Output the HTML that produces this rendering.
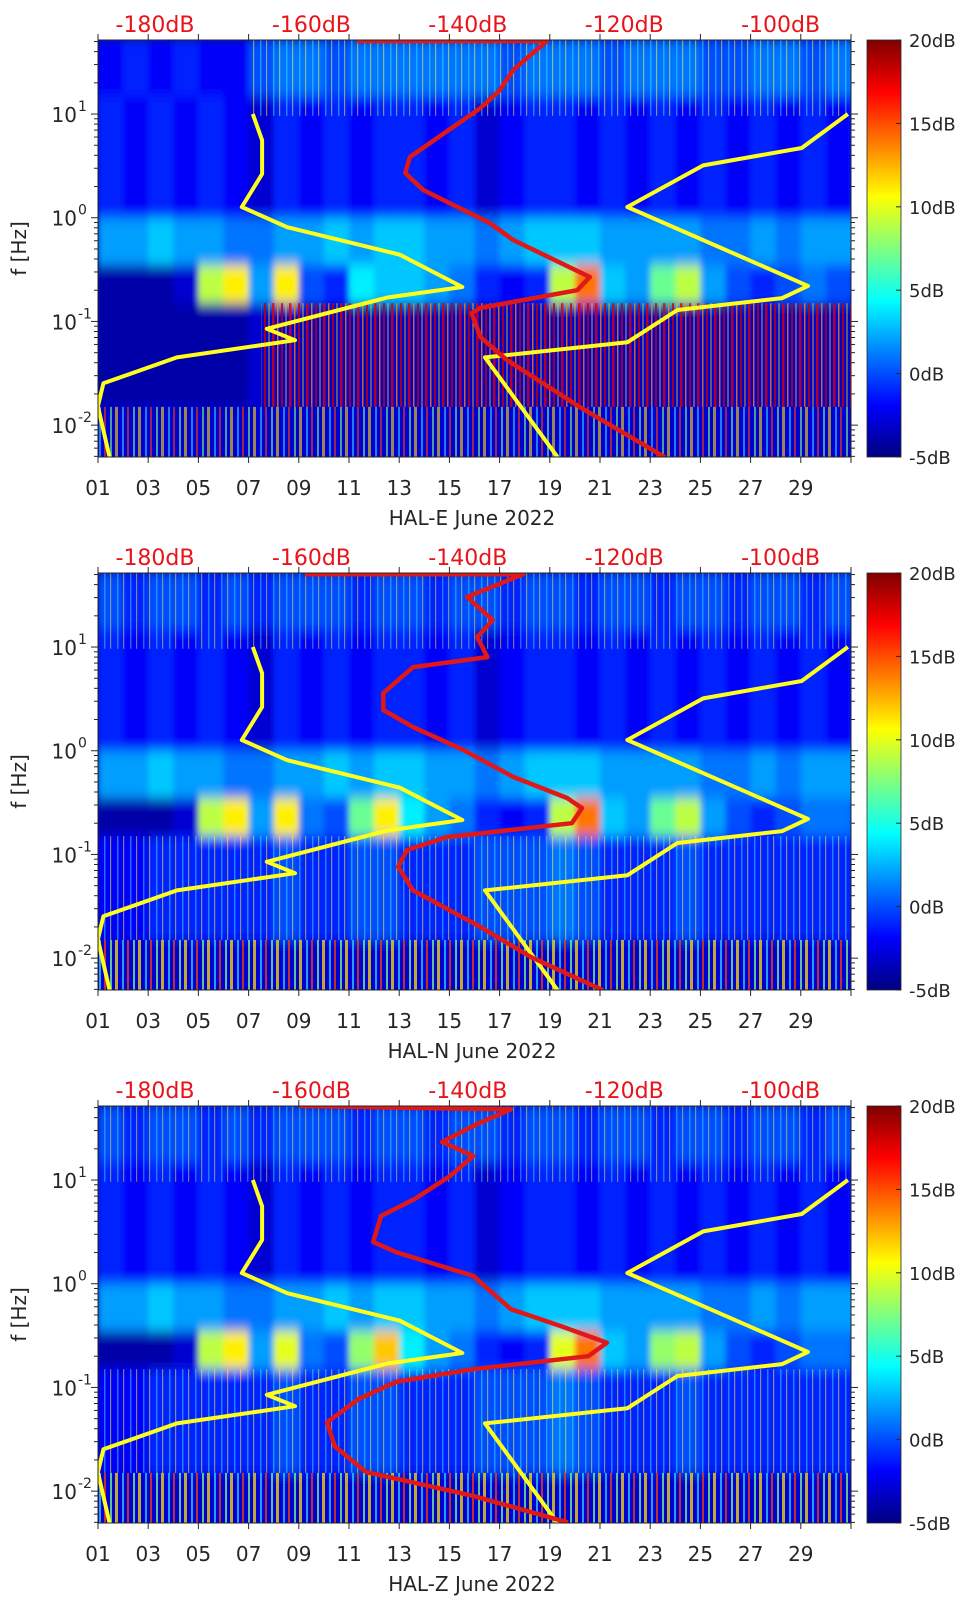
<!DOCTYPE html>
<html>
<head>
<meta charset="utf-8">
<style>
  html,body{margin:0;padding:0;background:#fff;}
  svg{display:block;}
  text{font-family:"DejaVu Sans","Liberation Sans",sans-serif;}
</style>
</head>
<body>
<svg id="fig" width="962" height="1599" viewBox="0 0 962 1599" xmlns="http://www.w3.org/2000/svg">
  <defs>
    <filter id="blur" x="-2%" y="-2%" width="104%" height="104%">
      <feGaussianBlur stdDeviation="3 6" edgeMode="duplicate"/>
    </filter>
    <linearGradient id="jetGrad" x1="0" y1="1" x2="0" y2="0">
      <stop offset="0" stop-color="#000080"/>
      <stop offset="0.125" stop-color="#0000ff"/>
      <stop offset="0.375" stop-color="#00ffff"/>
      <stop offset="0.625" stop-color="#ffff00"/>
      <stop offset="0.875" stop-color="#ff0000"/>
      <stop offset="1" stop-color="#800000"/>
    </linearGradient>
    <pattern id="stripeRed" patternUnits="userSpaceOnUse" width="17" height="10">
      <rect x="0" y="0" width="2.5" height="10" fill="#e00000"/>
      <rect x="5" y="0" width="1.5" height="10" fill="#ff8000"/>
      <rect x="9" y="0" width="2" height="10" fill="#c00000"/>
      <rect x="13.5" y="0" width="1" height="10" fill="#ffd000"/>
    </pattern>
    <pattern id="stripeMix" patternUnits="userSpaceOnUse" width="23" height="10">
      <rect x="0" y="0" width="3" height="10" fill="#ffe000"/>
      <rect x="7" y="0" width="2" height="10" fill="#30d0ff"/>
      <rect x="12" y="0" width="2" height="10" fill="#ff4000"/>
      <rect x="18" y="0" width="2" height="10" fill="#80ff80"/>
    </pattern>
    <pattern id="stripeThin" patternUnits="userSpaceOnUse" width="13" height="10">
      <rect x="0" y="0" width="1.5" height="10" fill="#40e0ff"/>
      <rect x="6" y="0" width="1.2" height="10" fill="#ffff40"/>
    </pattern>
  </defs>
</svg>
<script>
// ---------- data ----------
const days = [1,2,3,4,5,6,7,8,9,10,11,12,13,14,15,16,17,18,19,20,21,22,23,24,25,26,27,28,29,30,31];
const bandEdgesHz = [52, 15, 1, 0.35, 0.15, 0.015, 0.004];
const b0E  = [-2,-1,-2,-1,-2,-2,0,1,1,0,1,1,1,1,1,1,0,1,1,1,0,1,1,1,0,0,1,1,0,1,1];
const b0NZ = [0,-1,0,0,-1,0,-1,0,0,0,-1,0,0,-1,0,0,-1,0,0,-1,0,0,-1,0,0,-1,0,0,-1,0,0];
const b1   = [-1,-2,-1,-2,-1,-2,-3,-1,-2,-1,-2,-1,-1,-2,-1,-3,-2,-1,-1,-2,-1,-2,-1,-2,-1,-2,-1,-2,-1,-2,-1];
const b2   = [2,2,3,2,2,1,1,2,2,3,2,3,3,2,2,1,2,3,3,3,2,2,2,2,1,1,2,1,2,2,2];
const b3E  = [-4,-4,-4,-3,9,11,2,11,0,-1,4,3,3,2,1,-1,-2,-1,9,14,3,2,7,9,2,0,-1,0,1,0,-1];
const b3N  = [-4,-4,-4,-3,9,11,2,11,1,0,7,11,4,2,1,-1,-2,-1,9,14,3,2,7,9,2,0,-1,0,1,1,0];
const b3Z  = [-4,-4,-4,-3,9,11,2,10,1,0,8,12,4,2,1,-1,-2,-1,10,14,3,2,8,9,2,0,-1,0,1,1,0];
const b4E  = [-4,-4,-4,-4,-4,-4,-3,-3,-3,-3,-3,-3,-3,-3,-3,-3,-3,-3,-3,-3,-3,-3,-3,-3,-3,-3,-3,-3,-3,-3,-3];
const b4N  = [-2,-2,-1,-1,-1,-1,-1,0,-1,-1,0,0,-1,-1,-1,0,0,0,1,0,-1,-1,-1,0,-1,-1,-1,-1,-1,-1,-1];
const b4Z  = [-2,-2,-1,-1,-1,-1,-1,0,-1,-1,0,0,-1,-1,-1,0,0,0,1,0,-1,-1,-1,0,-1,-1,-1,-1,-1,-1,-1];
const b5   = [-3,-3,-3,-3,-3,-3,-3,-3,-3,-3,-3,-3,-3,-3,-3,-3,-3,-3,-3,-3,-3,-3,-3,-3,-3,-3,-3,-3,-3,-3,-3];

const nlnmF  = [10, 5.6, 2.64, 1.27, 0.81, 0.44, 0.215, 0.17, 0.085, 0.066, 0.045, 0.0253, 0.0152, 0.0049];
const nlnmDb = [-167.5, -166.3, -166.3, -168.9, -163.1, -148.7, -140.7, -150.3, -165.7, -162.1, -177.2, -186.6, -187.3, -185.8];
const nhnmF  = [10, 4.7, 3.2, 1.27, 0.22, 0.168, 0.129, 0.063, 0.045, 0.0049];
const nhnmDb = [-91.4, -97.3, -109.9, -119.6, -96.5, -99.8, -113.2, -119.6, -137.8, -128.5];

const redEF  = [50.6, 50.6, 26.6, 17, 11.4, 3.85, 2.7, 1.85, 0.89, 0.61, 0.268, 0.2, 0.135, 0.12, 0.071, 0.0425, 0.015, 0.0049];
const redEDb = [-154.2, -129.9, -134.2, -135.9, -138.4, -147.4, -148.0, -145.7, -137.2, -134.2, -124.4, -126.0, -138.4, -139.5, -138.4, -135.0, -125.7, -114.8];
const redNF  = [50.4, 50.4, 30.4, 18.2, 12.5, 8.0, 6.4, 3.6, 2.47, 1.69, 1.02, 0.56, 0.35, 0.28, 0.20, 0.147, 0.110, 0.076, 0.045, 0.020, 0.0103, 0.0049];
const redNDb = [-160.8, -132.9, -140.1, -136.8, -138.8, -137.5, -147.0, -150.8, -150.8, -147.0, -140.6, -134.2, -127.3, -125.4, -126.7, -142.7, -147.8, -148.9, -147.0, -138.4, -132.0, -122.7];
const redZF  = [51.8, 48, 34.7, 23.3, 17.1, 10.9, 6.56, 4.5, 2.53, 2.02, 1.19, 0.57, 0.39, 0.27, 0.20, 0.150, 0.113, 0.077, 0.046, 0.027, 0.0153, 0.0090, 0.0050];
const redZDb = [-161.6, -134.5, -138.8, -143.3, -139.3, -142.3, -146.8, -151.1, -152.1, -149.2, -139.3, -134.5, -128.1, -122.2, -124.6, -139.3, -149.2, -154.0, -158.0, -157.0, -153.0, -139.3, -127.2];

const dbTicks = [-180, -160, -140, -120, -100];
const dayTickLabels = ["01","03","05","07","09","11","13","15","17","19","21","23","25","27","29"];
const decadeTicks = [1, 0, -1, -2];
const cbTicks = [-5, 0, 5, 10, 15, 20];

// ---------- layout ----------
const NS = "http://www.w3.org/2000/svg";
const svg = document.getElementById("fig");
const PX0 = 98, PX1 = 851, PH = 417;
const LOGTOP = 1.714, PXDEC = 103.7, DAYPX = 25.1;
const CBX = 867, CBW = 34, VMIN = -5, VMAX = 20;

function mk(tag, attrs, parent) {
  const e = document.createElementNS(NS, tag);
  for (const k in attrs) e.setAttribute(k, attrs[k]);
  (parent || svg).appendChild(e);
  return e;
}
function xDay(d) { return PX0 + (d - 1) * DAYPX; }
function yF(f, top) { return top + (LOGTOP - Math.log10(f)) * PXDEC; }
function xDb(db) { return 155 + (db + 180) * 7.82; }
function clamp(v) { return Math.max(0, Math.min(1, v)); }
function jet(v) {
  const t = clamp((v - VMIN) / (VMAX - VMIN));
  const r = clamp(1.5 - Math.abs(4 * t - 3)), g = clamp(1.5 - Math.abs(4 * t - 2)), b = clamp(1.5 - Math.abs(4 * t - 1));
  return "rgb(" + Math.round(r * 255) + "," + Math.round(g * 255) + "," + Math.round(b * 255) + ")";
}

const panels = [
  {top: 40,   name: "HAL-E", key: "e", bands: [b0E, b1, b2, b3E, b4E, b5], rf: redEF, rd: redEDb},
  {top: 573,  name: "HAL-N", key: "n", bands: [b0NZ, b1, b2, b3N, b4N, b5], rf: redNF, rd: redNDb},
  {top: 1106, name: "HAL-Z", key: "z", bands: [b0NZ, b1, b2, b3Z, b4Z, b5], rf: redZF, rd: redZDb}
];

panels.forEach(function (p, pi) {
  const top = p.top, bot = top + PH;
  const g = mk("g", {});
  
  

  const cp = mk("clipPath", {id: "clip" + pi}, g);
  mk("rect", {x: PX0, y: top, width: PX1 - PX0, height: PH}, cp);

  const plot = mk("g", {"clip-path": "url(#clip" + pi + ")"}, g);
  
  
  const bg = mk("rect", {x: PX0, y: top, width: PX1 - PX0, height: PH, fill: "#0012a8"}, plot);
  
  

  const heat = mk("g", {filter: "url(#blur)"}, plot);
  
  
  p.bands.forEach(function (vals, bi) {
    const y0 = yF(bandEdgesHz[bi], top), y1 = yF(bandEdgesHz[bi + 1], top);
    days.forEach(function (d, j) {
      const c = mk("rect", {x: xDay(d), y: y0, width: DAYPX + 0.6, height: y1 - y0 + 0.6, fill: jet(vals[j])}, heat);
      
      
    });
  });

  // stripe textures
  const yb4a = yF(bandEdgesHz[4], top), yb4b = yF(bandEdgesHz[5], top), yb5b = yF(bandEdgesHz[6], top);
  const yb0a = yF(bandEdgesHz[0], top), yb0b = yF(bandEdgesHz[1], top);
  if (pi === 0) {
    const s1 = mk("rect", {x: xDay(7.5), y: yb4a, width: PX1 - xDay(7.5), height: yb4b - yb4a, fill: "url(#stripeRed)", opacity: 0.8}, plot);
    
    
    const s2 = mk("rect", {x: xDay(7), y: yb0a - 5, width: PX1 - xDay(7), height: yb0b - yb0a + 25, fill: "url(#stripeThin)", opacity: 0.5}, plot);
    
    
  } else {
    const s3 = mk("rect", {x: PX0, y: yb4a, width: PX1 - PX0, height: yb4b - yb4a, fill: "url(#stripeThin)", opacity: 0.5}, plot);
    
    
    const s4 = mk("rect", {x: PX0, y: yb0a - 5, width: PX1 - PX0, height: yb0b - yb0a + 25, fill: "url(#stripeThin)", opacity: 0.45}, plot);
    
    
  }
  const s5 = mk("rect", {x: PX0, y: yb4b, width: PX1 - PX0, height: yb5b - yb4b, fill: "url(#stripeMix)", opacity: pi === 0 ? 0.6 : 0.75}, plot);
  
  

  // curves
  function path(fs, dbs) {
    return fs.map(function (f, i) { return (i ? "L" : "M") + xDb(dbs[i]).toFixed(1) + "," + yF(f, top).toFixed(1); }).join(" ");
  }
  const ln = mk("path", {d: path(nlnmF, nlnmDb), fill: "none", stroke: "#ffff1e", "stroke-width": 4, "stroke-linejoin": "round"}, plot);
  
  
  const hn = mk("path", {d: path(nhnmF, nhnmDb), fill: "none", stroke: "#ffff1e", "stroke-width": 4, "stroke-linejoin": "round"}, plot);
  
  
  const rc = mk("path", {d: path(p.rf, p.rd), fill: "none", stroke: "#e01818", "stroke-width": 4.5, "stroke-linejoin": "round"}, plot);
  
  

  // frame
  const fr = mk("rect", {x: PX0, y: top, width: PX1 - PX0, height: PH, fill: "none", stroke: "#262626", "stroke-width": 1}, g);
  
  

  // x ticks
  for (let d = 1; d <= 31; d += 2) {
    const x = xDay(d);
    mk("line", {x1: x, y1: bot, x2: x, y2: bot + 6, stroke: "#262626"}, g);
    mk("line", {x1: x, y1: top, x2: x, y2: top - 6, stroke: "#262626"}, g);
  }
  dayTickLabels.forEach(function (lab) {
    const t = mk("text", {x: xDay(parseInt(lab, 10)), y: bot + 38, "font-size": 20, "text-anchor": "middle", fill: "#262626"}, g);
    t.textContent = lab;
    
    
  });
  const xl = mk("text", {x: 472, y: bot + 68, "font-size": 20, "text-anchor": "middle", fill: "#262626"}, g);
  xl.textContent = p.name + " June 2022";
  
  

  // dB labels on top
  dbTicks.forEach(function (db) {
    const t = mk("text", {x: xDb(db), y: top - 8, "font-size": 22, "text-anchor": "middle", fill: "#e8141a"}, g);
    t.textContent = db + "dB";
    
    
  });

  // y ticks
  for (let e = -3; e <= 1; e++) {
    for (let m = 1; m <= 9; m++) {
      const f = m * Math.pow(10, e);
      const y = yF(f, top);
      if (y < top - 0.5 || y > bot + 0.5) continue;
      const L = m === 1 ? 7 : 4;
      mk("line", {x1: PX0, y1: y, x2: PX0 - L, y2: y, stroke: "#262626"}, g);
      mk("line", {x1: PX1, y1: y, x2: PX1 + L, y2: y, stroke: "#262626"}, g);
    }
  }
  decadeTicks.forEach(function (e) {
    const y = yF(Math.pow(10, e), top);
    const t = mk("text", {x: 77, y: y + 8, "font-size": 20, "text-anchor": "end", fill: "#262626"}, g);
    t.textContent = "10";
    
    
    const s = mk("text", {x: 78, y: y - 3, "font-size": 14, "text-anchor": "start", fill: "#262626"}, g);
    s.textContent = String(e);
    
    
  });
  const yl = mk("text", {x: 0, y: 0, "font-size": 20, "text-anchor": "middle", fill: "#262626", transform: "translate(26," + (top + PH / 2) + ") rotate(-90)"}, g);
  yl.textContent = "f [Hz]";
  
  

  // colorbar
  const cb = mk("rect", {x: CBX, y: top, width: CBW, height: PH, fill: "url(#jetGrad)", stroke: "#262626", "stroke-width": 0.8}, g);
  
  
  cbTicks.forEach(function (v) {
    const y = bot - (v - VMIN) / (VMAX - VMIN) * PH;
    mk("line", {x1: CBX + CBW, y1: y, x2: CBX + CBW - 5, y2: y, stroke: "#262626"}, g);
    const t = mk("text", {x: CBX + CBW + 8, y: y + 7, "font-size": 18, fill: "#262626"}, g);
    t.textContent = v + "dB";
    
    
  });
});
</script>
</body>
</html>
